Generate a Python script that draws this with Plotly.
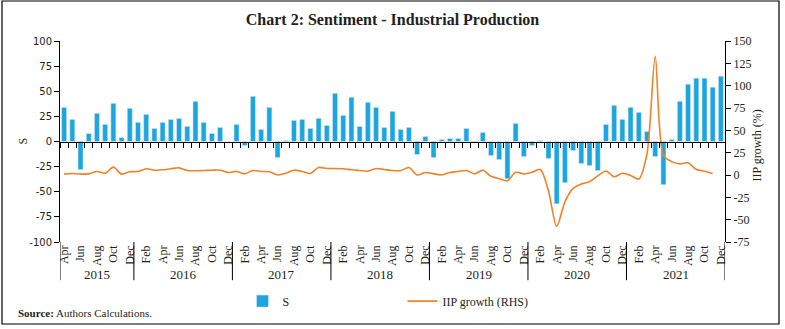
import plotly.graph_objects as go

month_names = ["Jan", "Feb", "Mar", "Apr", "May", "Jun", "Jul", "Aug", "Sep", "Oct", "Nov", "Dec"]
years = ["2015", "2016", "2017", "2018", "2019", "2020", "2021"]
start_month = 3  # April 2015

# Sentiment S (left axis), Apr 2015 - Dec 2021
s_values = [
    34, 22, -28, 8, 28, 17, 38, 4, 33,                 # 2015 Apr-Dec
    19, 27, 13, 19, 22, 23, 15, 40, 19, 8, 14, 0,      # 2016
    17, -4, 45, 12, 34, -16, 1, 21, 22, 13, 23, 16,    # 2017
    48, 26, 44, 15, 39, 34, 14, 30, 12, 14, -13, 5,    # 2018
    -16, 2, 3, 3, 13, -1, 9, -14, -18, -37, 18, -15,   # 2019
    -4, 1, -17, -62, -41, -9, -22, -24, -29, 17, 36, 22,  # 2020
    34, 29, 10, -15, -43, 2, 40, 57, 63, 63, 54, 65,   # 2021
]

# IIP growth % (right axis)
iip_values = [
    1.0, 1.7, 1.0, 1.3, 4.0, 2.0, 8.8, 1.0, 3.6,
    4.0, 7.0, 5.4, 5.8, 7.0, 8.0, 5.0, 4.7, 5.0, 5.4, 5.4, 2.8,
    4.0, 1.3, 5.0, 4.0, 3.6, 0.0, 2.0, 5.4, 4.0, 1.7, 8.4, 7.3,
    7.3, 7.0, 5.8, 5.0, 4.3, 7.3, 6.2, 5.0, 5.0, 8.4, 0.0, 2.8,
    1.3, 0.2, 2.8, 4.0, 5.0, 1.3, 5.4, -1.5, -4.2, -6.5, 3.0, 1.2,
    3.0, 6.2, -18.0, -57.5, -30.0, -15.0, -10.0, -7.5, -1.0, 4.5, -2.0, 2.0,
    -0.5, -4.5, 24.0, 133.0, 22.0, 15.0, 12.5, 13.6, 6.2, 4.3, 1.7, None,
]

left_ticks = [-100, -75, -50, -25, 0, 25, 50, 75, 100]
right_ticks = [-75, -50, -25, 0, 25, 50, 75, 100, 125, 150]

n = len(s_values)
month_labels = [month_names[(start_month + i) % 12] for i in range(n)]
year_of = [years[(start_month + i) // 12] for i in range(n)]
idx = list(range(n))

serif = "Liberation Serif"
dark = "#231f20"
bar_color = "#1ba6df"
line_color = "#f58025"

fig = go.Figure()
fig.add_trace(go.Bar(x=idx, y=s_values, name="S", marker_color=bar_color,
                     xaxis="x", yaxis="y"))
fig.add_trace(go.Scatter(x=idx, y=iip_values, name="IIP growth (RHS)", mode="lines",
                         line=dict(color=line_color, width=1.6, shape="spline", smoothing=0.8),
                         xaxis="x2", yaxis="y2", connectgaps=False))

xr = [-0.5, n - 0.5]
fig.update_layout(
    width=785, height=329,
    margin=dict(l=60, r=60, t=41, b=87, autoexpand=False),
    paper_bgcolor="white", plot_bgcolor="white",
    bargap=0.39,
    showlegend=True,
    font=dict(family=serif, color=dark, size=11),
    title=dict(text="<b>Chart 2: Sentiment - Industrial Production</b>",
               x=0.5, xanchor="center", y=1 - 19 / 329, yanchor="middle", yref="container",
               font=dict(family=serif, size=16, color=dark)),
    xaxis=dict(range=xr, tickmode="array", tickvals=idx[::2], ticktext=month_labels[::2],
               tickangle=-90, ticks="", showline=False, showgrid=False, zeroline=False,
               automargin=False, tickfont=dict(family=serif, size=12, color=dark)),
    xaxis2=dict(range=xr, overlaying="x", anchor="free", position=0.5,
                tickmode="array", tickvals=[i - 0.5 for i in range(n + 1)],
                ticks="outside", ticklen=5, tickcolor="black", showticklabels=False,
                showline=True, linecolor="black", linewidth=1, showgrid=False, zeroline=False,
                automargin=False),
    yaxis=dict(range=[-100, 100], tickmode="array", tickvals=left_ticks,
               ticktext=[str(v) for v in left_ticks], showline=True, linecolor="black",
               ticks="outside", ticklen=5, tickcolor="black", showgrid=False, zeroline=False,
               automargin=False, tickfont=dict(family="DejaVu Sans", size=10, color=dark)),
    yaxis2=dict(range=[-75, 150], tickmode="array", tickvals=right_ticks,
                ticktext=[str(v) for v in right_ticks], overlaying="y", side="right", anchor="x",
                showline=True, linecolor="black", ticks="outside", ticklen=5, tickcolor="black",
                showgrid=False, zeroline=False, automargin=False,
                tickfont=dict(family=serif, size=12, color=dark)),
    legend=dict(orientation="h", x=0.515, xanchor="center", y=-0.294, yanchor="middle",
                entrywidth=115, font=dict(family=serif, size=12, color=dark)),
)

# axis titles
fig.add_annotation(x=-0.057, y=0.5, xref="paper", yref="paper", text="S", textangle=-90,
                   xanchor="center", yanchor="middle",
                   showarrow=False, font=dict(family=serif, size=12, color=dark))
fig.add_annotation(x=1.048, y=0.48, xref="paper", yref="paper", text="IIP growth (%)", textangle=-90,
                   xanchor="center", yanchor="middle",
                   showarrow=False, font=dict(family=serif, size=12, color=dark))

# year group labels and separators
for k, yr in enumerate(years):
    members = [i for i in idx if year_of[i] == yr]
    center = (members[0] + members[-1]) / 2
    fig.add_annotation(x=center, y=-0.164, xref="x", yref="paper", text=yr, showarrow=False,
                       yanchor="middle", font=dict(family=serif, size=13, color=dark))
    fig.add_shape(type="line", xref="x", yref="paper", x0=members[0] - 0.5, x1=members[0] - 0.5,
                  y0=0, y1=-0.19, line=dict(color="black", width=1))
fig.add_shape(type="line", xref="x", yref="paper", x0=n - 0.5, x1=n - 0.5,
              y0=0, y1=-0.19, line=dict(color="black", width=1))

fig.add_annotation(x=-0.066, y=-0.353, xref="paper", yref="paper", xanchor="left", yanchor="middle",
                   text="<b>Source:</b> Authors Calculations.", showarrow=False,
                   font=dict(family=serif, size=11, color=dark))

# outer frame
fig.add_shape(type="rect", xref="paper", yref="paper", x0=-0.0872, x1=1.0812, y0=-0.408, y1=1.199,
              line=dict(color="black", width=1.2), fillcolor="rgba(0,0,0,0)")

fig.write_html("out.html")
